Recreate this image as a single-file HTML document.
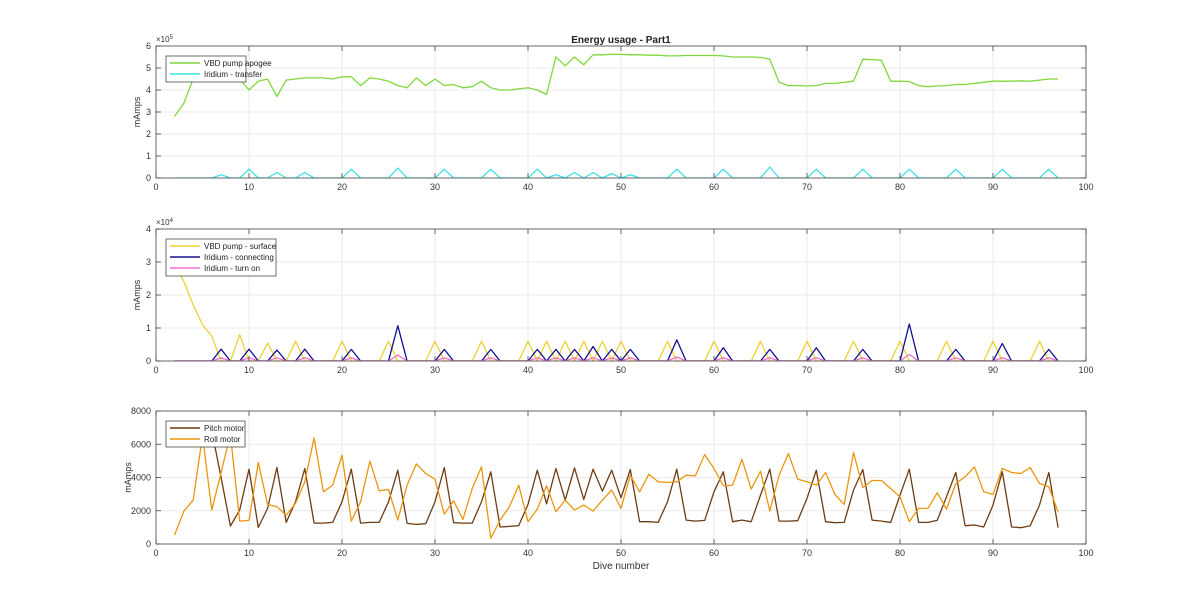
<!DOCTYPE html>
<html><head><meta charset="utf-8"><style>
html,body{margin:0;padding:0;background:#fff;}
svg{display:block;font-family:"Liberation Sans",sans-serif;}
</style></head><body>
<svg id="fig" width="1200" height="611" viewBox="0 0 1200 611" xmlns="http://www.w3.org/2000/svg">
<rect width="1200" height="611" fill="#fff"/>
<text x="621" y="43" font-size="10" font-weight="bold" text-anchor="middle" fill="#222">Energy usage - Part1</text>
<text x="621" y="569" font-size="10" text-anchor="middle" fill="#333">Dive number</text>
</svg>
<script>
// x = dive 2..97
const diveStart = 2;
const xTicks = [0,10,20,30,40,50,60,70,80,90,100];
// Plot 1 (x1e5)
const vbdApogee = [2.8,3.4,4.5,5.0,5.0,4.8,4.6,4.5,4.0,4.4,
4.5,3.7,4.45,4.5,4.55,4.55,4.55,4.5,4.6,4.6,
4.2,4.55,4.5,4.4,4.2,4.1,4.55,4.2,4.5,4.2,
4.25,4.1,4.15,4.4,4.1,4.0,4.0,4.05,4.1,4.0,
3.8,5.5,5.1,5.5,5.15,5.6,5.6,5.62,5.62,5.6,
5.6,5.58,5.58,5.55,5.55,5.57,5.57,5.57,5.57,5.55,
5.5,5.5,5.5,5.48,5.4,4.35,4.2,4.2,4.18,4.2,
4.3,4.3,4.35,4.4,5.4,5.38,5.35,4.4,4.4,4.38,
4.2,4.15,4.18,4.2,4.25,4.25,4.3,4.35,4.4,4.4,
4.4,4.42,4.4,4.45,4.5,4.5];
const iridiumTransfer = [0,0,0,0,0,0.15,0,0,0.4,0,
0,0.25,0,0,0.25,0,0,0,0,0.4,
0,0,0,0,0.45,0,0,0,0,0.4,
0,0,0,0,0.4,0,0,0,0,0.4,
0,0.15,0,0.25,0,0.25,0,0.2,0,0.15,
0,0,0,0,0.4,0,0,0,0,0.4,
0,0,0,0,0.5,0,0,0,0,0.4,
0,0,0,0,0.4,0,0,0,0,0.4,
0,0,0,0,0.4,0,0,0,0,0.4,
0,0,0,0,0.4,0];
const y1Ticks = [0,1,2,3,4,5,6];
// Plot 2 (x1e4)
const vbdSurface = [3.0,2.4,1.7,1.1,0.75,0,0,0.8,0,0,
0.55,0,0,0.6,0,0,0,0,0.6,0,
0,0,0,0.6,0,0,0,0,0.6,0,
0,0,0,0.6,0,0,0,0,0.6,0,
0.6,0,0.6,0,0.6,0,0.6,0,0.6,0,
0,0,0,0.6,0,0,0,0,0.6,0,
0,0,0,0.6,0,0,0,0,0.6,0,
0,0,0,0.6,0,0,0,0,0.6,0,
0,0,0,0.6,0,0,0,0,0.6,0,
0,0,0,0.6,0,0];
const iridiumConnecting = [0,0,0,0,0,0.36,0,0,0.36,0,
0,0.33,0,0,0.36,0,0,0,0,0.35,
0,0,0,0,1.07,0,0,0,0,0.35,
0,0,0,0,0.35,0,0,0,0,0.35,
0,0.35,0,0.35,0,0.44,0,0.35,0,0.35,
0,0,0,0,0.64,0,0,0,0,0.4,
0,0,0,0,0.35,0,0,0,0,0.4,
0,0,0,0,0.35,0,0,0,0,1.12,
0,0,0,0,0.35,0,0,0,0,0.53,
0,0,0,0,0.35,0];
const iridiumTurnOn = [0,0,0,0,0,0.1,0,0,0.1,0,
0,0.1,0,0,0.1,0,0,0,0,0.1,
0,0,0,0,0.18,0,0,0,0,0.1,
0,0,0,0,0.1,0,0,0,0,0.1,
0,0.1,0,0.1,0,0.1,0,0.1,0,0.1,
0,0,0,0,0.12,0,0,0,0,0.1,
0,0,0,0,0.1,0,0,0,0,0.1,
0,0,0,0,0.1,0,0,0,0,0.2,
0,0,0,0,0.1,0,0,0,0,0.1,
0,0,0,0,0.1,0];
const y2Ticks = [0,1,2,3,4];
// Plot 3
const rollMotor = [540,1980,2640,6500,2040,4300,6600,1380,1420,4900,
2380,2240,1740,2440,3740,6380,3140,3540,5340,1380,
2540,4980,3200,3280,1440,3540,4820,4240,3900,1800,
2600,1480,3340,4640,340,1440,2240,3540,1340,2100,
3500,1940,2640,2040,2340,1980,2640,3240,2140,4140,
3140,4200,3740,3700,3740,4140,4100,5380,4540,3500,
3540,5100,3300,4380,1980,4140,5440,3900,3740,3540,
4300,2980,2380,5500,3400,3820,3820,3340,2840,1340,
2140,2140,3080,2100,3640,4040,4640,3140,2980,4540,
4300,4240,4600,3640,3440,1940];
const pitchMotor = [null,null,null,6500,6800,4000,1080,2040,4500,1000,
2140,4600,1300,2540,4540,1260,1260,1300,2540,4500,
1260,1300,1300,2540,4440,1240,1180,1220,2540,4600,
1280,1260,1260,2540,4340,1020,1060,1100,2380,4440,
2420,4540,2640,4580,2680,4500,3180,4440,2780,4480,
1340,1340,1300,2540,4500,1440,1380,1420,3140,4340,
1340,1440,1340,2940,4500,1380,1380,1400,2740,4440,
1340,1280,1300,3240,4480,1440,1380,1300,2940,4500,
1300,1300,1420,2840,4300,1100,1140,1020,2340,4340,
1020,980,1100,2340,4300,980];
const y3Ticks = [0,2000,4000,6000,8000];

const NS="http://www.w3.org/2000/svg";
const svg=document.getElementById('fig');
const L=156,R=1086;
function mk(tag,attrs,parent){const e=document.createElementNS(NS,tag);for(const k in attrs)e.setAttribute(k,attrs[k]);(parent||svg).appendChild(e);return e;}
function xs(v){return L+(v-0)/(100-0)*(R-L);}

function panel(id,top,bot,ymax,yTicks,tickLabel,series,legend,expLabel,ylabX){
  const ys=v=>bot-(v/ymax)*(bot-top);
  const g=mk('g',{});
  
  
  const cp=mk('clipPath',{id:id+'-clip'},g);
  mk('rect',{x:L,y:top,width:R-L,height:bot-top},cp);
  xTicks.forEach(t=>{const l=mk('line',{x1:xs(t),x2:xs(t),y1:top,y2:bot,stroke:'#ebebeb','stroke-width':1},g);
    });
  yTicks.forEach(t=>{const l=mk('line',{x1:L,x2:R,y1:ys(t),y2:ys(t),stroke:'#ebebeb','stroke-width':1},g);
    });
  series.forEach(s=>{
    let d='',pen=false;
    s.data.forEach((v,i)=>{if(v===null){pen=false;return;}const X=xs(diveStart+i),Y=ys(v*s.scale);d+=(pen?'L':'M')+X.toFixed(1)+','+Y.toFixed(1);pen=true;});
    const p=mk('path',{d:d,fill:'none',stroke:s.color,'stroke-width':1.3,'clip-path':'url(#'+id+'-clip)','stroke-linejoin':'round'},g);
    
    
  });
  const b=mk('rect',{x:L,y:top,width:R-L,height:bot-top,fill:'none',stroke:'#444','stroke-width':0.8},g);
  
  xTicks.forEach(t=>{
    mk('line',{x1:xs(t),x2:xs(t),y1:bot,y2:bot-5,stroke:'#444','stroke-width':0.8},g);
    mk('line',{x1:xs(t),x2:xs(t),y1:top,y2:top+5,stroke:'#444','stroke-width':0.8},g);
    const tx=mk('text',{x:xs(t),y:bot+12,'font-size':9,'text-anchor':'middle',fill:'#333'},g);
    tx.textContent=t;
  });
  yTicks.forEach((t,i)=>{
    mk('line',{x1:L,x2:L+5,y1:ys(t),y2:ys(t),stroke:'#444','stroke-width':0.8},g);
    mk('line',{x1:R,x2:R-5,y1:ys(t),y2:ys(t),stroke:'#444','stroke-width':0.8},g);
    const tx=mk('text',{x:L-5,y:ys(t)+3,'font-size':9,'text-anchor':'end',fill:'#333'},g);
    tx.textContent=tickLabel(t);
  });
  const yl=mk('text',{x:0,y:0,'font-size':9,'text-anchor':'middle',fill:'#333',transform:'translate('+ylabX+','+((top+bot)/2)+') rotate(-90)'},g);
  yl.textContent='mAmps';
  if(expLabel){
    const ex=mk('text',{x:L,y:top-4,'font-size':8,fill:'#333'},g);
    
    ex.textContent='\u00d710';
    const sup=mk('tspan',{dy:-3,'font-size':6},ex);sup.textContent=expLabel;
  }
  const lg=mk('g',{},g);
  
  mk('rect',{x:166,y:top+10,width:legend.w,height:series.length*11+4,fill:'#fff',stroke:'#333','stroke-width':0.7},lg);
  series.forEach((s,i)=>{
    const y=top+17+i*11;
    const ln=mk('line',{x1:170,x2:200,y1:y,y2:y,stroke:s.color,'stroke-width':1.5},lg);
    
    const tx=mk('text',{x:204,y:y+3,'font-size':8,fill:'#222'},lg);
    tx.textContent=s.label;
  });
}
panel('panel-vbd-apogee',46,178,600000,y1Ticks.map(v=>v*1e5),t=>String(t/1e5),[
 {name:'line-vbd-pump-apogee',label:'VBD pump apogee',data:vbdApogee,scale:1e5,color:'#7ed83c'},
 {name:'line-iridium-transfer',label:'Iridium - transfer',data:iridiumTransfer,scale:1e5,color:'#3ee0e8'}],{w:80},'5',140);
panel('panel-vbd-surface',229,361,40000,y2Ticks.map(v=>v*1e4),t=>String(t/1e4),[
 {name:'line-vbd-pump-surface',label:'VBD pump - surface',data:vbdSurface,scale:1e4,color:'#ecd234'},
 {name:'line-iridium-connecting',label:'Iridium - connecting',data:iridiumConnecting,scale:1e4,color:'#10108e'},
 {name:'line-iridium-turn-on',label:'Iridium - turn on',data:iridiumTurnOn,scale:1e4,color:'#f070c8'}],{w:110},'4',140);
panel('panel-motors',411,544,8000,y3Ticks,t=>String(t),[
 {name:'line-pitch-motor',label:'Pitch motor',data:pitchMotor,scale:1,color:'#6e3c12'},
 {name:'line-roll-motor',label:'Roll motor',data:rollMotor,scale:1,color:'#ea960e'}],{w:79},null,131);
</script>
</body></html>
